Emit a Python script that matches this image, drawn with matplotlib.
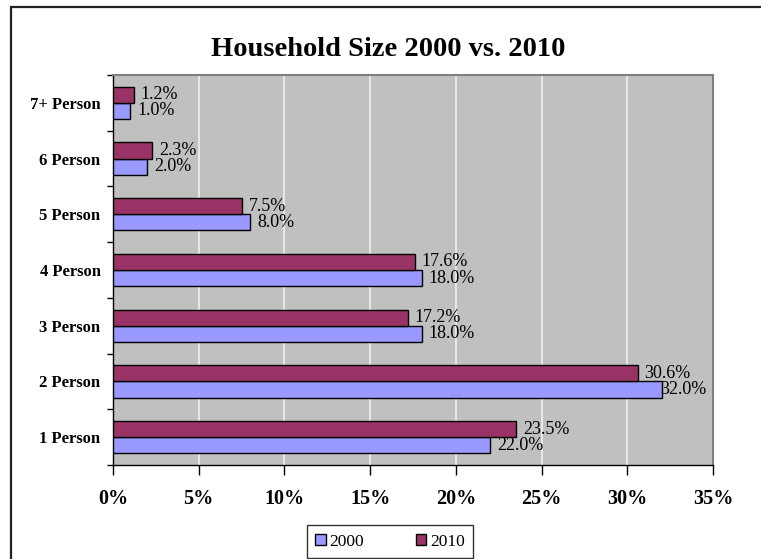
import numpy as np
import matplotlib
matplotlib.use("Agg")
import matplotlib.pyplot as plt
import matplotlib.ticker as ptk
from matplotlib.patches import Rectangle, Patch

categories = ["1 Person", "2 Person", "3 Person", "4 Person", "5 Person", "6 Person", "7+ Person"]
share_2000 = [22.0, 32.0, 18.0, 18.0, 8.0, 2.0, 1.0]
share_2010 = [23.5, 30.6, 17.2, 17.6, 7.5, 2.3, 1.2]
x_ticks = [0, 5, 10, 15, 20, 25, 30, 35]

plt.rcParams["font.family"] = ["Liberation Serif", "DejaVu Serif"]

W, H = 761, 559
fig = plt.figure(figsize=(W / 100, H / 100), dpi=100, facecolor="white")

# outer chart border (right and bottom fall outside the picture)
fig.patches.append(Rectangle((11 / W, -0.2), 1.2, 1.2 - 7 / H, transform=fig.transFigure,
                             fill=False, edgecolor="#222222", linewidth=1.6, zorder=0))

ax = fig.add_axes([113 / W, (H - 465) / H, 600 / W, 390 / H])
ax.set_facecolor("#c0c0c0")

y = np.arange(len(categories))
h = 0.29
b1 = ax.barh(y - h / 2, share_2000, height=h, color="#9999ff", edgecolor="black", linewidth=1, zorder=3)
b2 = ax.barh(y + h / 2, share_2010, height=h, color="#993366", edgecolor="black", linewidth=1, zorder=3)

for bars, vals in ((b1, share_2000), (b2, share_2010)):
    for bar, v in zip(bars, vals):
        xe = bar.get_width()
        off = 5
        if v > 31:
            off = -1
        ax.annotate("%.1f%%" % v, (xe, bar.get_y() + bar.get_height() / 2),
                    xytext=(off, 0), textcoords="offset points", ha="left", va="center",
                    fontsize=13, color="black", zorder=4, annotation_clip=False)

ax.set_xlim(0, 35)
ax.set_ylim(-0.5, len(categories) - 0.5)
ax.set_xticks(x_ticks)
ax.set_xticklabels(["%d%%" % t for t in x_ticks], fontweight="bold", fontsize=14.5)
ax.tick_params(axis="x", direction="out", length=7, width=1, pad=10.5, colors="black")
ax.grid(axis="x", color="#f0f0f0", linewidth=1.2, zorder=1)
ax.set_axisbelow(True)

ax.set_yticks(y)
ax.set_yticklabels(categories, fontweight="bold", fontsize=12)
ax.tick_params(axis="y", which="major", length=0, pad=9)
ax.yaxis.set_minor_locator(ptk.FixedLocator(np.arange(-0.5, len(categories), 1.0)))
ax.tick_params(axis="y", which="minor", direction="out", length=4, width=1)

for side in ("top", "right"):
    ax.spines[side].set_color("#808080")
    ax.spines[side].set_linewidth(1.5)
for side in ("left", "bottom"):
    ax.spines[side].set_color("black")
    ax.spines[side].set_linewidth(1)

fig.text(388 / W, 1 - 50 / H, "Household Size 2000 vs. 2010", ha="center", va="center",
         fontsize=20.5, fontweight="bold")

handles = [Patch(facecolor="#9999ff", edgecolor="black", label="2000"),
           Patch(facecolor="#993366", edgecolor="black", label="2010")]
leg = fig.legend(handles=handles, loc="upper center", bbox_to_anchor=(390 / W, 1 - 525 / H),
                 ncol=2, frameon=True, fancybox=False, fontsize=12.5, handlelength=0.6,
                 handleheight=0.6, handletextpad=0.2, columnspacing=3.0, borderpad=0.5,
                 borderaxespad=0)
leg.get_frame().set_edgecolor("black")
leg.get_frame().set_linewidth(1)

fig.savefig("out.png", dpi=100)
